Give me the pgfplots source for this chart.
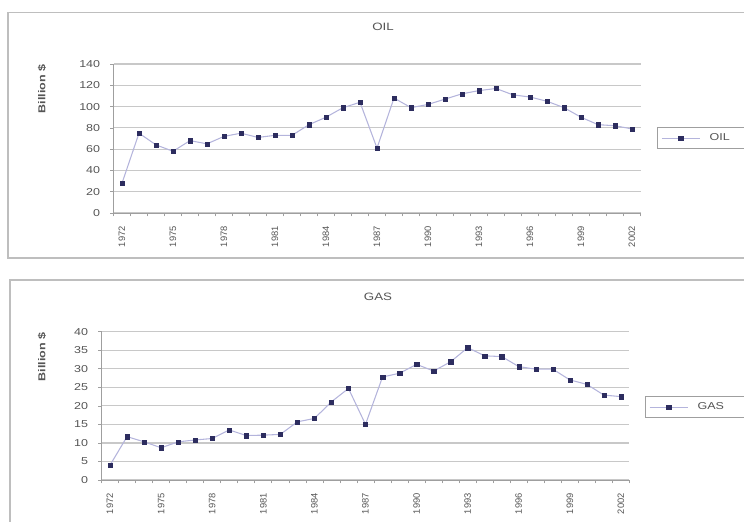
\documentclass[border=0pt]{standalone}
\usepackage{pgfplots}
\pgfplotsset{compat=1.18}
\usepackage{pgfplotstable}
\usepackage{fontspec}
\setmainfont{Liberation Sans}[FakeStretch=1.25]
\newfontfamily\plainfont{Liberation Sans}

\definecolor{gridc}{RGB}{200,200,200}
\definecolor{linec}{RGB}{180,180,220}
\definecolor{markc}{RGB}{45,45,95}
\definecolor{framec}{RGB}{190,190,190}
\definecolor{txt}{RGB}{85,85,85}

\pgfplotstableread{
year oil
1972 28
1973 75
1974 64
1975 58
1976 68
1977 65
1978 72
1979 75
1980 71
1981 73
1982 73
1983 83
1984 90
1985 99
1986 104
1987 61
1988 108
1989 99
1990 102
1991 107
1992 112
1993 115
1994 117
1995 111
1996 109
1997 105
1998 99
1999 90
2000 83
2001 82
2002 79
}\oildata

\pgfplotstableread{
year gas
1972 4.0
1973 11.7
1974 10.3
1975 8.7
1976 10.3
1977 10.8
1978 11.2
1979 13.5
1980 12.0
1981 12.1
1982 12.3
1983 15.7
1984 16.6
1985 21.1
1986 24.7
1987 15.0
1988 27.8
1989 28.8
1990 31.2
1991 29.4
1992 31.9
1993 35.7
1994 33.5
1995 33.3
1996 30.6
1997 29.9
1998 29.9
1999 27.0
2000 25.8
2001 22.9
2002 22.5
}\gasdata

\pgfplotsset{
  panel/.style={
    scale only axis,
    xmin=1971.5, xmax=2002.5,
    axis lines*=left,
    axis line style={gray!75, line width=0.6pt},
    xtick={1972,1975,...,2002},
    minor xtick={1971.5,1972.5,...,2002.5},
    major x tick style={draw=none},
    minor x tick style={gray!75, line width=0.5pt},
    ytick style={gray!75, line width=0.5pt},
    major tick length=2.5pt,
    minor tick length=2.5pt,
    tick align=outside,
    ymajorgrids,
    grid style={gridc, line width=0.9pt},
    /pgf/number format/assume math mode=true,
    /pgf/number format/1000 sep={},
    xticklabel style={rotate=90, anchor=east, font=\plainfont\fontsize{7}{8}\selectfont, text=txt, xshift=-4pt},
    yticklabel style={font=\fontsize{7.5}{8}\selectfont, text=txt, xshift=-4pt},
    legend style={draw=gray!75, line width=0.6pt, font=\fontsize{7.5}{8}\selectfont, text=txt,
      inner xsep=3pt, inner ysep=2.5pt, anchor=west},
    legend image code/.code={\draw[mark repeat=2,mark phase=2] plot coordinates {(0cm,0cm) (0.5cm,0cm) (1.0cm,0cm)};},
  },
  series/.style={color=linec, line width=0.8pt, mark=square*,
      mark size=1.6pt, mark options={fill=markc, draw=markc, line width=0.2pt}},
}

\begin{document}
\begin{tikzpicture}
\useasboundingbox (0,0) rectangle (558pt,-391.5pt);
% frames
\draw[framec, line width=1.1pt] (6pt,-9.5pt) rectangle (575pt,-193.5pt);
\draw[framec, line width=1.1pt] (7.5pt,-210pt) rectangle (575pt,-405pt);

\begin{axis}[panel,
  at={(85.125pt,-159.75pt)}, anchor=south west,
  width=395.25pt, height=111.75pt,
  ymin=0, ymax=140, ytick={0,20,...,140},
  legend style={at={(1.031,0.503)}}]
\addplot[series] table[x=year, y=oil] {\oildata};
\addlegendentry{\rule{5pt}{0pt}OIL\rule{35pt}{0pt}}
\end{axis}

\begin{axis}[panel,
  at={(76.125pt,-360pt)}, anchor=south west,
  width=396pt, height=111.2pt,
  ymin=0, ymax=40, ytick={0,5,...,40},
  legend style={at={(1.029,0.492)}}]
\addplot[series] table[x=year, y=gas] {\gasdata};
\addlegendentry{\rule{5pt}{0pt}GAS\rule{35pt}{0pt}}
\end{axis}

\node[font=\fontsize{8}{9}\selectfont, text=txt] at (287.25pt,-20.25pt) {OIL};
\node[font=\fontsize{8}{9}\selectfont, text=txt] at (283.5pt,-222.75pt) {GAS};
\node[font=\bfseries\fontsize{7.5}{8}\selectfont, text=txt, rotate=90] at (31.5pt,-66.75pt) {Billion \$};
\node[font=\bfseries\fontsize{7.5}{8}\selectfont, text=txt, rotate=90] at (31.5pt,-267.75pt) {Billion \$};
\end{tikzpicture}
\end{document}
